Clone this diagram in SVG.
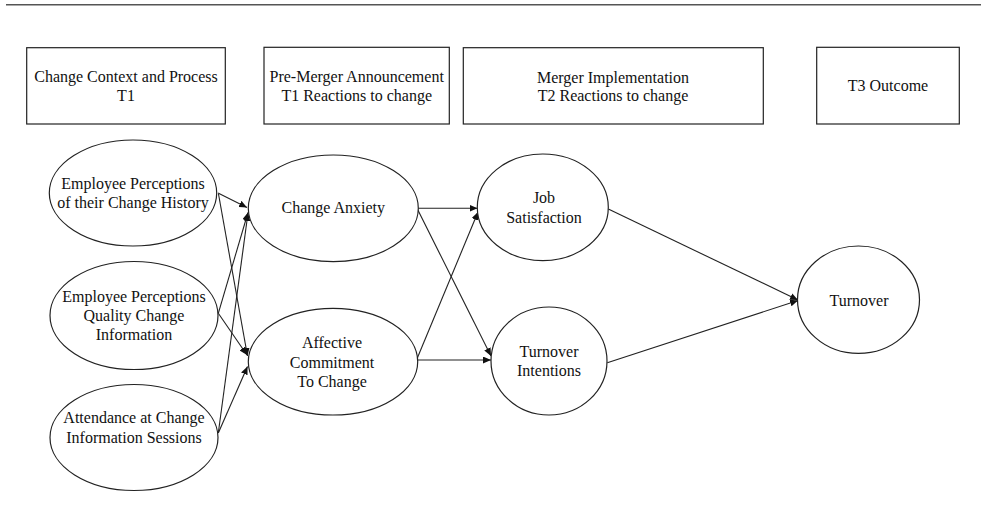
<svg xmlns="http://www.w3.org/2000/svg" width="981" height="522" viewBox="0 0 981 522">
<style>
  .box { fill: #fff; stroke: #222; stroke-width: 1.2; }
  .node { fill: #fff; stroke: #222; stroke-width: 1.2; }
  .t { font-family: "Liberation Serif", "Times New Roman", serif; font-size: 16px; fill: #111; text-anchor: middle; }
  .edge { stroke: #222; stroke-width: 1.1; fill: none; marker-end: url(#arr); }
</style>
<defs>
  <marker id="arr" markerUnits="userSpaceOnUse" markerWidth="8" markerHeight="7" refX="8" refY="3.5" orient="auto">
    <path d="M0,0 L8,3.5 L0,7 z" fill="#111"/>
  </marker>
</defs>
<rect width="981" height="522" fill="#fff"/>
<line x1="6" y1="4.7" x2="981" y2="4.7" stroke="#555" stroke-width="1.5"/>

<g id="hdr1">
  <rect class="box" x="26.7" y="47.7" width="198.6" height="76.3"/>
  <text class="t" x="126" y="82">Change Context and Process</text>
  <text class="t" x="126" y="101">T1</text>
</g>
<g id="hdr2">
  <rect class="box" x="264" y="47.3" width="185.3" height="76.7"/>
  <text class="t" x="356.7" y="82">Pre-Merger Announcement</text>
  <text class="t" x="356.7" y="101">T1 Reactions to change</text>
</g>
<g id="hdr3">
  <rect class="box" x="463.3" y="47.7" width="300" height="76.3"/>
  <text class="t" x="613" y="82.5">Merger Implementation</text>
  <text class="t" x="613" y="101">T2 Reactions to change</text>
</g>
<g id="hdr4">
  <rect class="box" x="816.7" y="47.3" width="142.6" height="76.7"/>
  <text class="t" x="888" y="91">T3 Outcome</text>
</g>

<g id="connectors">
  <line class="edge" x1="218" y1="193" x2="247" y2="207.5"/>
  <line class="edge" x1="218.5" y1="194" x2="247.5" y2="356"/>
  <line class="edge" x1="218.3" y1="313.3" x2="248" y2="212.5"/>
  <line class="edge" x1="218.3" y1="313.3" x2="247" y2="355"/>
  <line class="edge" x1="218.3" y1="433" x2="248" y2="213"/>
  <line class="edge" x1="218.3" y1="433" x2="247.5" y2="366.5"/>
  <line class="edge" x1="417" y1="208.3" x2="477.5" y2="208.3"/>
  <line class="edge" x1="417" y1="208.3" x2="491" y2="356"/>
  <line class="edge" x1="416.5" y1="360" x2="478" y2="212"/>
  <line class="edge" x1="416.5" y1="360" x2="491" y2="360"/>
  <line class="edge" x1="608.3" y1="209" x2="798" y2="300"/>
  <line class="edge" x1="607.3" y1="362.7" x2="798" y2="300.5"/>
</g>

<g id="n_history">
  <ellipse class="node" cx="133" cy="193" rx="83.7" ry="53"/>
  <text class="t" x="133" y="189.3">Employee Perceptions</text>
  <text class="t" x="133" y="208.3">of their Change History</text>
</g>
<g id="n_quality">
  <ellipse class="node" cx="134" cy="315.5" rx="84" ry="54"/>
  <text class="t" x="134" y="301.7">Employee Perceptions</text>
  <text class="t" x="134" y="320.7">Quality Change</text>
  <text class="t" x="134" y="339.5">Information</text>
</g>
<g id="n_attendance">
  <ellipse class="node" cx="134" cy="437.5" rx="84" ry="53"/>
  <text class="t" x="134" y="423.3">Attendance at Change</text>
  <text class="t" x="134" y="442.7">Information Sessions</text>
</g>
<g id="n_anxiety">
  <ellipse class="node" cx="333.3" cy="208.3" rx="85" ry="53.3"/>
  <text class="t" x="333.3" y="212.7">Change Anxiety</text>
</g>
<g id="n_commitment">
  <ellipse class="node" cx="333" cy="361.7" rx="84.7" ry="53.3"/>
  <text class="t" x="332" y="348.3">Affective</text>
  <text class="t" x="332" y="367.7">Commitment</text>
  <text class="t" x="332" y="386.7">To Change</text>
</g>
<g id="n_jobsat">
  <ellipse class="node" cx="542.8" cy="207.3" rx="65.5" ry="53.3"/>
  <text class="t" x="544" y="203.3">Job</text>
  <text class="t" x="544" y="222.7">Satisfaction</text>
</g>
<g id="n_intentions">
  <ellipse class="node" cx="549" cy="361" rx="58" ry="54"/>
  <text class="t" x="549" y="356.7">Turnover</text>
  <text class="t" x="549" y="376">Intentions</text>
</g>
<g id="n_turnover">
  <ellipse class="node" cx="858.5" cy="299.7" rx="61" ry="53.7"/>
  <text class="t" x="859" y="305.7">Turnover</text>
</g>
</svg>
